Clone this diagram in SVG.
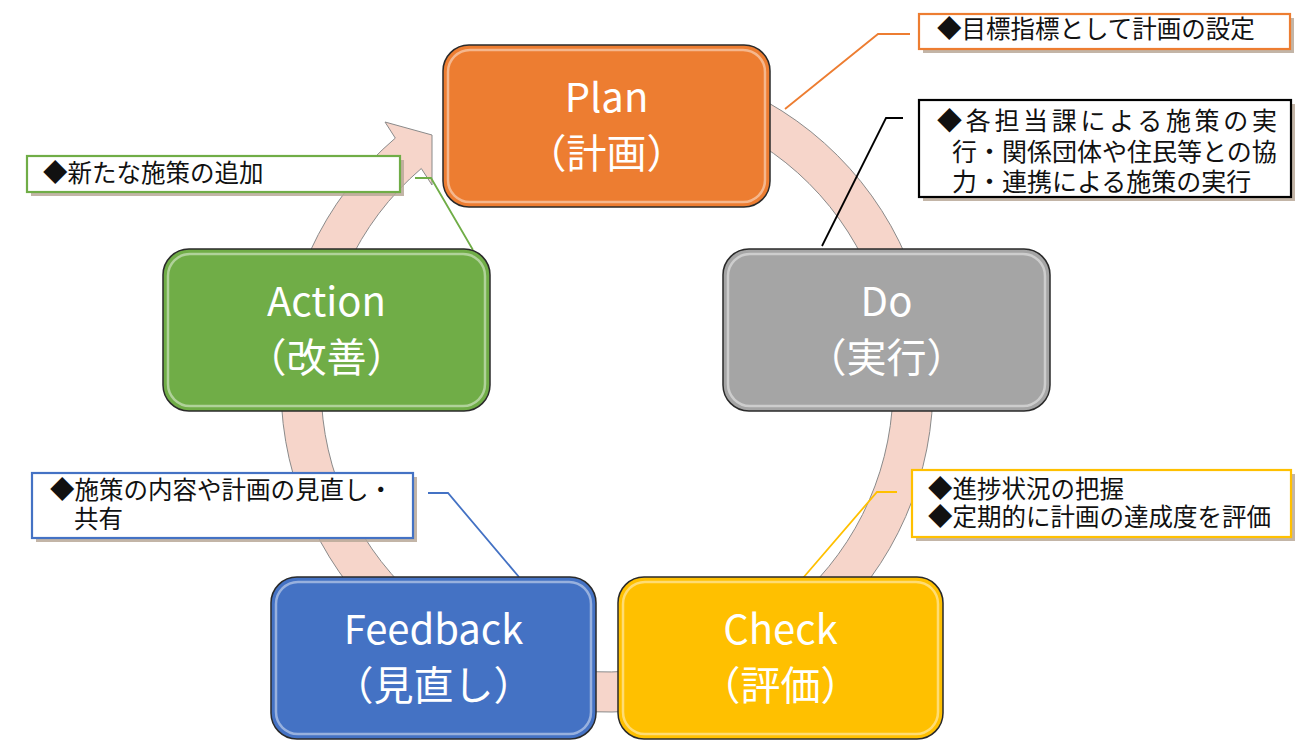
<svg xmlns="http://www.w3.org/2000/svg" width="1309" height="740" viewBox="0 0 1309 740">
<style>
.node rect.b{stroke:#2a2a2a;stroke-width:1.5}
.node rect.h{fill:none;stroke:#ffffff;stroke-opacity:0.45;stroke-width:2.5}
.nt{font-family:"Noto Sans CJK JP","Noto Sans",sans-serif;font-size:40px;fill:#ffffff;text-anchor:middle}
.ct{font-family:"Noto Sans CJK JP","Noto Sans",sans-serif;font-size:24.5px;fill:#111111}
.cb{fill:#ffffff;stroke-width:2.2}
.sh{fill:#b8a898;opacity:0.85}
.ln{fill:none;stroke-width:1.8}
</style>
<rect width="1309" height="740" fill="#ffffff"/>
<g id="cycle-arrow">
<path d="M718.5,79.7 A326,326 0 1 1 395.3,138.1 L385,122 L432,135 L432,185 L421.3,168.5 A286,286 0 1 0 704.8,117.2 Z" fill="#F6D5CA" stroke="#8a8a8a" stroke-width="1"/>
</g>
<g id="connectors">
<polyline class="ln" points="785,109 878,34 910,34" stroke="#ED7D31"/>
<polyline class="ln" points="822,246 886,118 903,118" stroke="#000000"/>
<polyline class="ln" points="415,178 431,178 473,250" stroke="#70AD47"/>
<polyline class="ln" points="428,493 448,493 519,577" stroke="#4472C4"/>
<polyline class="ln" points="897,492 877,492 803,578" stroke="#FFC000"/>
</g>
<g id="note-plan">
<rect class="sh" x="923" y="18" width="371" height="35"/>
<rect class="cb" x="919" y="14" width="371" height="35" stroke="#ED7D31"/>
<text class="ct" x="937" y="38">◆目標指標として計画の設定</text>
</g>
<g id="note-do">
<rect class="sh" x="923" y="104" width="372" height="97"/>
<rect class="cb" x="919" y="100" width="372" height="97" stroke="#000000"/>
<text class="ct" style="font-size:25px"><tspan x="937" y="130" textLength="340" lengthAdjust="spacing">◆各担当課による施策の実</tspan><tspan x="952" y="161">行・関係団体や住民等との協</tspan><tspan x="952" y="191">力・連携による施策の実行</tspan></text>
</g>
<g id="note-action">
<rect class="sh" x="31" y="160" width="373" height="36"/>
<rect class="cb" x="27" y="156" width="373" height="36" stroke="#70AD47"/>
<text class="ct" x="43" y="182">◆新たな施策の追加</text>
</g>
<g id="note-feedback">
<rect class="sh" x="36" y="477" width="381" height="65"/>
<rect class="cb" x="32" y="473" width="381" height="65" stroke="#4472C4"/>
<text class="ct"><tspan x="50" y="499">◆施策の内容や計画の見直し・</tspan><tspan x="74" y="528">共有</tspan></text>
</g>
<g id="note-check">
<rect class="sh" x="916" y="474" width="379" height="67"/>
<rect class="cb" x="912" y="470" width="379" height="67" stroke="#FFC000"/>
<text class="ct"><tspan x="928" y="498">◆進捗状況の把握</tspan><tspan x="928" y="526">◆定期的に計画の達成度を評価</tspan></text>
</g>
<g id="node-plan" class="node">
<rect class="b" x="443" y="45" width="327" height="162" rx="26" fill="#ED7D31"/>
<rect class="h" x="448" y="50" width="317" height="152" rx="22"/>
<text class="nt"><tspan x="606.5" y="112">Plan</tspan><tspan x="606.5" y="168">（計画）</tspan></text>
</g>
<g id="node-do" class="node">
<rect class="b" x="723" y="249" width="327" height="162" rx="26" fill="#A5A5A5"/>
<rect class="h" x="728" y="254" width="317" height="152" rx="22"/>
<text class="nt"><tspan x="886.5" y="316">Do</tspan><tspan x="886.5" y="372">（実行）</tspan></text>
</g>
<g id="node-action" class="node">
<rect class="b" x="163" y="249" width="327" height="162" rx="26" fill="#70AD47"/>
<rect class="h" x="168" y="254" width="317" height="152" rx="22"/>
<text class="nt"><tspan x="326.5" y="316">Action</tspan><tspan x="326.5" y="372">（改善）</tspan></text>
</g>
<g id="node-feedback" class="node">
<rect class="b" x="271" y="577" width="325" height="162" rx="26" fill="#4472C4"/>
<rect class="h" x="276" y="582" width="315" height="152" rx="22"/>
<text class="nt"><tspan x="433.5" y="644">Feedback</tspan><tspan x="433.5" y="700">（見直し）</tspan></text>
</g>
<g id="node-check" class="node">
<rect class="b" x="618" y="577" width="325" height="162" rx="26" fill="#FFC000"/>
<rect class="h" x="623" y="582" width="315" height="152" rx="22"/>
<text class="nt"><tspan x="780.5" y="644">Check</tspan><tspan x="780.5" y="700">（評価）</tspan></text>
</g>
</svg>
